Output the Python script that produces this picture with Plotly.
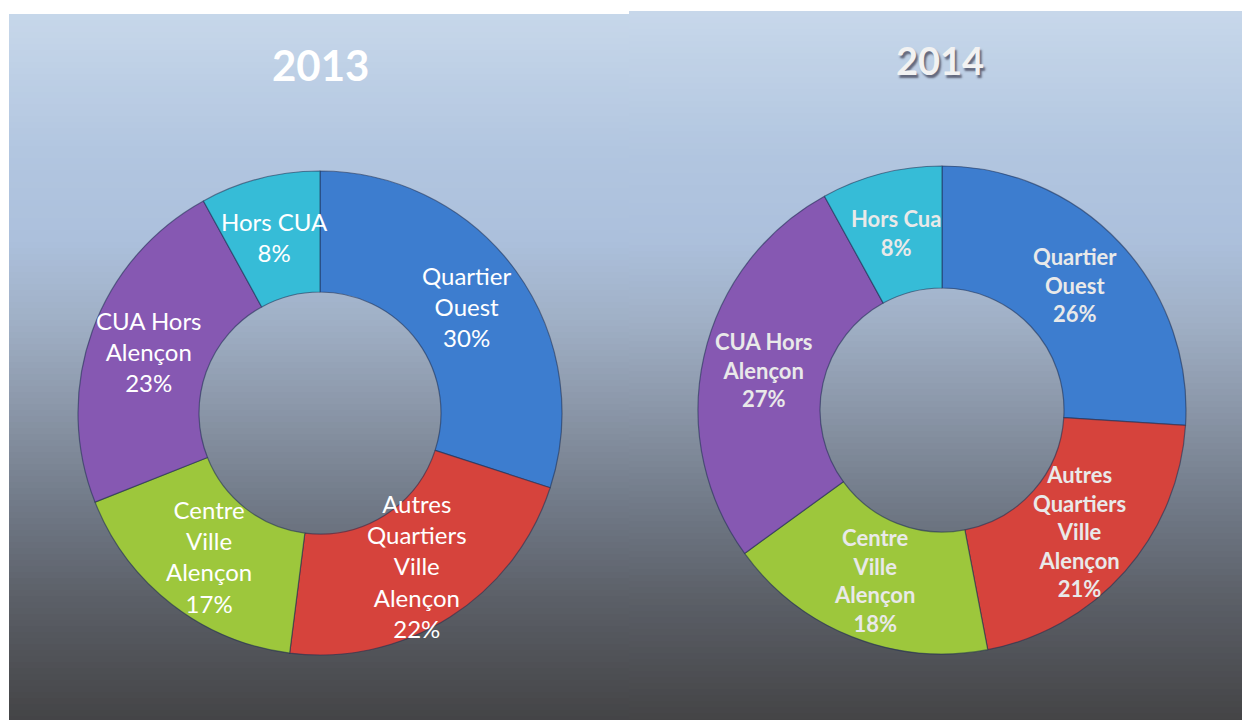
import math
import plotly.graph_objects as go

# ---------------- data ----------------
categories_2013 = ["Quartier Ouest", "Autres Quartiers Ville Alençon", "Centre Ville Alençon",
                   "CUA Hors Alençon", "Hors CUA"]
labels_2013 = ["Quartier<br>Ouest", "Autres<br>Quartiers<br>Ville<br>Alençon", "Centre<br>Ville<br>Alençon",
               "CUA Hors<br>Alençon", "Hors CUA"]
values_2013 = [30, 22, 17, 23, 8]

categories_2014 = ["Quartier Ouest", "Autres Quartiers Ville Alençon", "Centre Ville Alençon",
                   "CUA Hors Alençon", "Hors Cua"]
labels_2014 = ["Quartier<br>Ouest", "Autres<br>Quartiers<br>Ville<br>Alençon", "Centre<br>Ville<br>Alençon",
               "CUA Hors<br>Alençon", "Hors Cua"]
values_2014 = [26, 21, 18, 27, 8]

titles = ["2013", "2014"]

# ---------------- style ----------------
W, H = 1242, 720
colors = ["#3D7DCF", "#D6433C", "#9DC73C", "#8658B2", "#36BCD7"]
FONT = "Lato"

# pie geometry in pixels (center x, center y, outer radius)
pies = [
    dict(cx=320, cy=413, r=242, hole=0.5),
    dict(cx=942, cy=410, r=244, hole=0.5),
]

fig = go.Figure()

# ----- background gradient panels -----
stops = [(0, (201, 217, 235)), (150, (178, 198, 224)), (240, (172, 192, 220)),
         (320, (160, 176, 198)), (400, (141, 153, 171)), (500, (114, 123, 137)),
         (600, (91, 95, 103)), (720, (68, 68, 70))]


def col_at(y):
    for (y0, c0), (y1, c1) in zip(stops[:-1], stops[1:]):
        if y0 <= y <= y1:
            t = (y - y0) / (y1 - y0)
            return "rgb(%d,%d,%d)" % tuple(round(a + (b - a) * t) for a, b in zip(c0, c1))
    return "rgb(%d,%d,%d)" % stops[-1][1]


shapes = []
panels = [(9, 629, 14), (629, W, 11)]
band = 6
for x0, x1, ytop in panels:
    y = ytop
    while y < H:
        y2 = min(y + band, H)
        shapes.append(dict(type="rect", xref="paper", yref="paper",
                           x0=x0 / W, x1=x1 / W, y0=1 - y2 / H, y1=1 - y / H,
                           line=dict(width=0), fillcolor=col_at((y + y2) / 2), layer="below"))
        y = y2

# ----- donuts -----
datasets = [(categories_2013, labels_2013, values_2013), (categories_2014, labels_2014, values_2014)]
annotations = []
for i, ((cats, labs, vals), p) in enumerate(zip(datasets, pies)):
    fig.add_trace(go.Pie(
        labels=cats, values=vals, hole=p["hole"], sort=False, direction="clockwise",
        rotation=0, textinfo="none", hoverinfo="label+percent", showlegend=False,
        marker=dict(colors=colors, line=dict(color="rgba(30,45,80,0.55)", width=1.2)),
        domain=dict(x=[(p["cx"] - p["r"]) / W, (p["cx"] + p["r"]) / W],
                    y=[1 - (p["cy"] + p["r"]) / H, 1 - (p["cy"] - p["r"]) / H]),
    ))
    # labels at ring middle, computed from the data
    total = sum(vals)
    cum = 0
    rmid = p["r"] * (1 + p["hole"]) / 2
    for lab, v in zip(labs, vals):
        mid = (cum + v / 2) / total * 2 * math.pi
        cum += v
        x = p["cx"] + rmid * math.sin(mid)
        y = p["cy"] - rmid * math.cos(mid)
        pct = round(v / total * 100)
        if i == 0:
            font = dict(family=FONT, size=24, color="white")
        else:
            font = dict(family=FONT, size=22, color="#E9E9E9", weight="bold")
        annotations.append(dict(xref="paper", yref="paper", x=x / W, y=1 - y / H,
                                text=f"{lab}<br>{pct}%", showarrow=False, font=font,
                                xanchor="center", yanchor="middle"))

# titles
annotations.append(dict(xref="paper", yref="paper", x=320 / W, y=1 - 65 / H, text=titles[0],
                        showarrow=False, xanchor="center", yanchor="middle",
                        font=dict(family=FONT, size=42, color="white", weight="bold")))
annotations.append(dict(xref="paper", yref="paper", x=940 / W, y=1 - 60 / H, text=titles[1],
                        showarrow=False, xanchor="center", yanchor="middle",
                        font=dict(family=FONT, size=38, color="#F2F2F2", weight="bold",
                                  shadow="2px 3px 2px rgba(60,60,80,0.7)")))

fig.update_layout(
    width=W, height=H, margin=dict(l=0, r=0, t=0, b=0),
    paper_bgcolor="white", plot_bgcolor="white",
    shapes=shapes, annotations=annotations,
)

fig.write_html("out.html", config={"displayModeBar": False},
               post_script="document.body.style.margin='0';document.body.style.overflow='hidden';")
